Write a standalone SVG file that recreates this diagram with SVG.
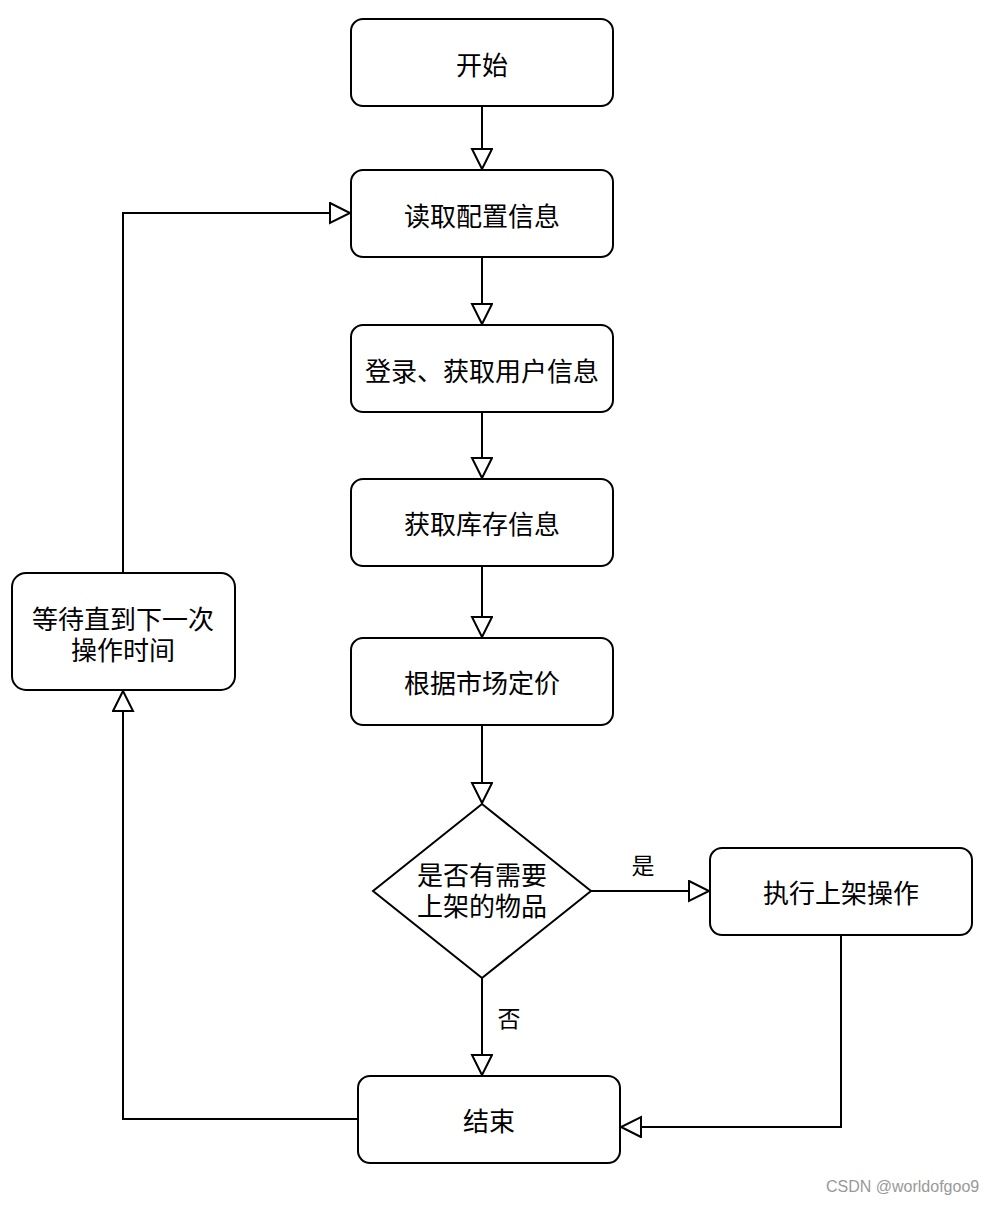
<svg xmlns="http://www.w3.org/2000/svg" width="993" height="1205" viewBox="0 0 993 1205">
<style>
.n{fill:#fff;stroke:#000;stroke-width:2}
.t{font-family:"Noto Sans CJK SC","Liberation Sans",sans-serif;font-size:26px;fill:#000;text-anchor:middle;dominant-baseline:central}
.l{font-family:"Noto Sans CJK SC","Liberation Sans",sans-serif;font-size:23px;fill:#000;text-anchor:middle;dominant-baseline:central}
.c{fill:none;stroke:#000;stroke-width:2}
.w{font-family:"Liberation Sans",sans-serif;font-size:16px;fill:#999}
</style>
<defs>
<marker id="a" markerWidth="24" markerHeight="24" refX="21" refY="11" orient="auto" markerUnits="userSpaceOnUse">
<path d="M1,1 L21,11 L1,21 Z" fill="#fff" stroke="#000" stroke-width="2"/>
</marker>
</defs>
<rect width="993" height="1205" fill="#fff"/>
<g id="connectors">
<path class="c" d="M482,106 V169" marker-end="url(#a)"/>
<path class="c" d="M482,257 V324" marker-end="url(#a)"/>
<path class="c" d="M482,412 V478" marker-end="url(#a)"/>
<path class="c" d="M482,566 V637" marker-end="url(#a)"/>
<path class="c" d="M482,725 V803" marker-end="url(#a)"/>
<path class="c" d="M591,891 H709" marker-end="url(#a)"/>
<path class="c" d="M482,978 V1075" marker-end="url(#a)"/>
<path class="c" d="M841,935 V1127 H621" marker-end="url(#a)"/>
<path class="c" d="M358,1119 H123 V691" marker-end="url(#a)"/>
<path class="c" d="M123,573 V213 H350" marker-end="url(#a)"/>
<text class="l" x="643" y="864">是</text>
<text class="l" x="509" y="1017">否</text>
</g>
<g id="start"><rect class="n" x="351" y="19" width="262" height="87" rx="12"/><text class="t" x="482" y="63">开始</text></g>
<g id="readConfig"><rect class="n" x="351" y="170" width="262" height="87" rx="12"/><text class="t" x="482" y="214">读取配置信息</text></g>
<g id="login"><rect class="n" x="351" y="325" width="262" height="87" rx="12"/><text class="t" x="482" y="369">登录、获取用户信息</text></g>
<g id="inventory"><rect class="n" x="351" y="479" width="262" height="87" rx="12"/><text class="t" x="482" y="522">获取库存信息</text></g>
<g id="pricing"><rect class="n" x="351" y="638" width="262" height="87" rx="12"/><text class="t" x="482" y="681">根据市场定价</text></g>
<g id="decision"><path class="n" d="M482,804 L591,891 L482,978 L373,891 Z"/><text class="t"><tspan x="482" y="873">是否有需要</tspan><tspan x="482" y="904">上架的物品</tspan></text></g>
<g id="listing"><rect class="n" x="710" y="848" width="262" height="87" rx="12"/><text class="t" x="841" y="891">执行上架操作</text></g>
<g id="end"><rect class="n" x="358" y="1076" width="262" height="87" rx="12"/><text class="t" x="489" y="1119">结束</text></g>
<g id="wait"><rect class="n" x="12" y="573" width="223" height="117" rx="14"/><text class="t"><tspan x="123" y="617">等待直到下一次</tspan><tspan x="123" y="648">操作时间</tspan></text></g>
<text class="w" x="826" y="1192">CSDN @worldofgoo9</text>
</svg>
